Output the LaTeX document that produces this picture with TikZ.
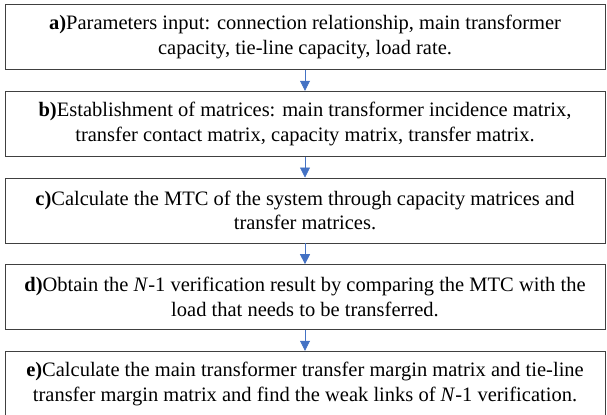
\documentclass[tikz,border=0pt]{standalone}
\usepackage{fontspec}
\setmainfont{Liberation Serif}
\usepackage{tikz}
\usetikzlibrary{positioning, arrows.meta}
\definecolor{arrowBlue}{HTML}{4472C4}

\begin{document}
\begin{tikzpicture}[font=\fontsize{12.3}{14.8}\selectfont, node distance=12.6pt,
  stepbox/.style={draw=black!75, thin, minimum width=360pt, minimum height=39pt,
    inner sep=2pt, align=center},
  arr/.style={-{Triangle[length=6pt, width=6pt]}, arrowBlue, thin}]

\useasboundingbox (0,0) rectangle (364.2pt,-249pt);

\node[stepbox] (pa) at (183pt,-22.2pt)
  {\textbf{a)}Parameters input: connection relationship, main transformer\\
   capacity, tie-line capacity, load rate.};
\node[stepbox, below=of pa] (pb)
  {\textbf{b)}Establishment of matrices: main transformer incidence matrix,\\
   transfer contact matrix, capacity matrix, transfer matrix.};
\node[stepbox, below=of pb] (pc)
  {\textbf{c)}Calculate the MTC of the system through capacity matrices and\\
   transfer matrices.};
\node[stepbox, below=of pc] (pd)
  {\textbf{d)}Obtain the \textit{N}-1 verification result by comparing the MTC with the\\
   load that needs to be transferred.};
\node[stepbox, below=of pd] (pe)
  {\textbf{e)}Calculate the main transformer transfer margin matrix and tie-line\\
   transfer margin matrix and find the weak links of \textit{N}-1 verification.};

\draw[arr] (pa) -- (pb);
\draw[arr] (pb) -- (pc);
\draw[arr] (pc) -- (pd);
\draw[arr] (pd) -- (pe);

\end{tikzpicture}
\end{document}
